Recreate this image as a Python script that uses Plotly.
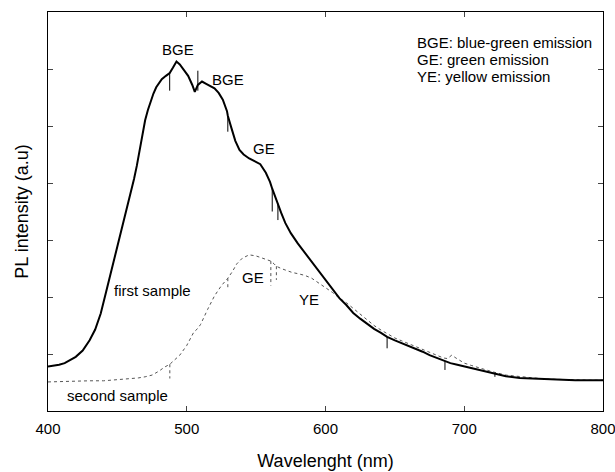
import plotly.graph_objects as go

# ---- data ----
first_wl = [400, 404, 408, 412, 416, 420, 425, 430, 434, 438, 442, 446, 450, 454, 458,
            462, 464, 466, 468, 470, 472, 474, 476, 478, 480, 482, 485, 487.7, 490, 492.6,
            495, 498, 501, 504, 505.8, 508.0, 511, 514, 517, 520, 523, 526, 529, 529.6,
            532, 535, 538, 541, 545, 549, 553, 557, 560, 561.6, 563, 565.7, 568, 571, 575,
            580, 585, 590, 595, 600, 605, 610, 615, 620, 625, 630, 635, 640, 644.4, 650,
            655, 660, 665, 670, 675, 680, 686.1, 690, 695, 700, 705, 710, 715, 720, 722.1,
            725, 730, 740, 750, 760, 770, 780, 790, 800]
first_int = [0.78, 0.79, 0.81, 0.84, 0.89, 0.95, 1.06, 1.24, 1.43, 1.71, 2.10, 2.49, 2.88, 3.28, 3.67,
             4.07, 4.30, 4.56, 4.86, 5.10, 5.28, 5.43, 5.57, 5.68, 5.76, 5.82, 5.88, 5.93, 6.02, 6.13,
             6.08, 5.97, 5.88, 5.72, 5.60, 5.72, 5.78, 5.74, 5.70, 5.66, 5.58, 5.46, 5.26, 5.18,
             4.98, 4.74, 4.58, 4.50, 4.43, 4.38, 4.33, 4.18, 4.02, 3.90, 3.80, 3.64, 3.48, 3.30, 3.12,
             2.94, 2.78, 2.61, 2.45, 2.30, 2.13, 1.98, 1.86, 1.72, 1.62, 1.53, 1.44, 1.37, 1.30, 1.24,
             1.19, 1.14, 1.10, 1.04, 0.98, 0.93, 0.87, 0.84, 0.81, 0.78, 0.75, 0.72, 0.69, 0.66, 0.65,
             0.63, 0.61, 0.58, 0.57, 0.55, 0.54, 0.54, 0.54, 0.54]

# narrow glitches (vertical spikes) on the first sample: position, curve level, spike tip
first_spike_wl = [487.7, 508.0, 529.6, 561.6, 565.7, 644.4, 686.1, 722.1]
first_spike_base = [5.93, 5.62, 5.18, 3.90, 3.64, 1.30, 0.87, 0.65]
first_spike_tip = [5.62, 5.97, 4.90, 3.50, 3.35, 1.10, 0.72, 0.60]

second_wl = [400, 410, 420, 430, 440, 450, 460, 465, 470, 475, 480, 484, 487.8,
             490, 495, 500, 505, 508, 510, 515, 520, 525, 529.6, 533, 536,
             540, 545, 550, 555, 558, 560.6, 563, 564.6, 568,
             572, 576, 580, 585, 590, 595, 600, 605, 610, 615, 620, 625, 630, 635, 640,
             645, 650, 655, 660, 665, 670, 675, 680, 685, 688, 691, 694, 697, 700, 705,
             710, 715, 720, 730, 740, 750, 760, 770, 780, 790, 800]
second_int = [0.51, 0.52, 0.52, 0.53, 0.53, 0.55, 0.56, 0.58, 0.60, 0.63, 0.70, 0.77, 0.82,
              0.87, 0.98, 1.15, 1.38, 1.45, 1.52, 1.78, 2.02, 2.20, 2.33, 2.45, 2.58,
              2.68, 2.74, 2.72, 2.68, 2.66, 2.63, 2.58, 2.54, 2.50,
              2.46, 2.43, 2.41, 2.38, 2.33, 2.25, 2.16, 2.08, 1.98, 1.90, 1.80, 1.70, 1.60, 1.50, 1.42,
              1.35, 1.28, 1.23, 1.18, 1.12, 1.07, 1.02, 0.98, 0.93, 0.92, 0.98, 0.93, 0.88, 0.84, 0.80,
              0.76, 0.72, 0.69, 0.63, 0.60, 0.58, 0.56, 0.55, 0.54, 0.54, 0.54]

second_spike_wl = [487.8, 529.6, 560.6, 564.6]
second_spike_base = [0.82, 2.33, 2.63, 2.54]
second_spike_tip = [0.57, 2.15, 2.20, 2.30]

x_ticks = [400, 500, 600, 700, 800]
y_ticks = [1, 2, 3, 4, 5, 6]

peak_labels = ["BGE", "BGE", "GE", "GE", "YE", "first sample", "second sample"]
peak_x = [493.8, 529.7, 555.9, 547.4, 588.2, 475.2, 450.2]
peak_y = [6.35, 5.81, 4.61, 2.34, 1.96, 2.11, 0.28]

legend_lines = ["BGE: blue-green emission", "GE: green emission", "YE: yellow emission"]
legend_y = [6.46, 6.16, 5.86]
legend_x = 664.7

FONT = "Liberation Sans, Arial, sans-serif"


def spike_xy(wl, base, tip):
    xs, ys = [], []
    for w, b, t in zip(wl, base, tip):
        xs += [w, w, None]
        ys += [b, t, None]
    return xs, ys


fig = go.Figure()
fig.add_trace(go.Scatter(x=second_wl, y=second_int, mode="lines",
                         line=dict(color="#555555", width=1, dash="dot"),
                         name="second sample", showlegend=False))
sx, sy = spike_xy(second_spike_wl, second_spike_base, second_spike_tip)
fig.add_trace(go.Scatter(x=sx, y=sy, mode="lines", connectgaps=False,
                         line=dict(color="#555555", width=1, dash="dot"),
                         showlegend=False, hoverinfo="skip"))
fig.add_trace(go.Scatter(x=first_wl, y=first_int, mode="lines",
                         line=dict(color="black", width=2),
                         name="first sample", showlegend=False))
fx, fy = spike_xy(first_spike_wl, first_spike_base, first_spike_tip)
fig.add_trace(go.Scatter(x=fx, y=fy, mode="lines", connectgaps=False,
                         line=dict(color="black", width=1),
                         showlegend=False, hoverinfo="skip"))

for t, x, y in zip(peak_labels, peak_x, peak_y):
    fig.add_annotation(x=x, y=y, text=t, showarrow=False,
                       font=dict(family=FONT, size=15, color="black"),
                       xanchor="center", yanchor="middle")
for t, y in zip(legend_lines, legend_y):
    fig.add_annotation(x=legend_x, y=y, text=t, showarrow=False,
                       font=dict(family=FONT, size=15, color="black"),
                       xanchor="left", yanchor="middle")

fig.update_layout(
    width=615, height=472,
    margin=dict(l=48, r=12, t=12, b=61),
    paper_bgcolor="white", plot_bgcolor="white",
    font=dict(family=FONT, size=15, color="black"),
    showlegend=False,
    xaxis=dict(range=[400, 800], tickvals=x_ticks, ticks="inside", ticklen=5,
               ticklabeloverflow="allow", automargin=False, ticklabelstandoff=4,
               showline=True, linecolor="black", linewidth=1, mirror="ticks",
               showgrid=False, zeroline=False,
               title=dict(text="Wavelenght (nm)", font=dict(size=18), standoff=18)),
    yaxis=dict(range=[0, 7], tickvals=y_ticks, ticks="inside", ticklen=5,
               showticklabels=False, automargin=False,
               showline=True, linecolor="black", linewidth=1, mirror="ticks",
               showgrid=False, zeroline=False,
               title=dict(text="PL intensity (a.u)", font=dict(size=18), standoff=13)),
)

# remove the browser's default 8 px page margin so the figure fills the window
fig.write_html("out.html",
               config={"displayModeBar": False},
               post_script="document.body.style.margin='0';document.body.style.overflow='hidden';")
